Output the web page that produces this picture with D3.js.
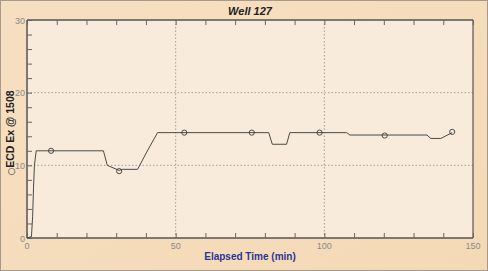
<!DOCTYPE html>
<html><head><meta charset="utf-8">
<script src="https://cdn.jsdelivr.net/npm/d3@7/dist/d3.min.js"></script>
<style>body{margin:0;background:#f5ddbd;}svg{display:block;}</style>
</head><body>
<svg id="c" width="488" height="271"></svg>
<script>
const title = "Well 127";
const xLabel = "Elapsed Time (min)";
const yLabelSymbol = "○";
const yLabel = "ECD Ex @ 1508";
const xTickLabels = [0, 50, 100, 150];
const yTickLabels = [0, 10, 20, 30];
// line data: elapsed time (min), ECD
const times = [0, 1.5, 1.9, 2.2, 2.5, 2.8, 3.1, 25.7, 27, 31, 32, 37.2, 40.1, 43.9, 81.3, 82.5, 87.3, 88.4, 107.5, 108.6, 134.5, 135.8, 139.2, 143];
const ecd =   [0, 0.2, 3, 7, 10, 11, 12, 12, 10, 9.3, 9.45, 9.45, 11.7, 14.5, 14.5, 12.9, 12.9, 14.5, 14.5, 14.17, 14.17, 13.7, 13.7, 14.5];
// markers
const markTimes = [8.1, 31, 52.9, 75.6, 98.4, 120.3, 143];
const markEcd = [12, 9.2, 14.5, 14.5, 14.5, 14.1, 14.6];

const svg = d3.select("#c");
const W = 488, H = 271;
const L = 27, R = 473, T = 20, B = 238;
const x = d3.scaleLinear().domain([0,150]).range([L,R]);
const y = d3.scaleLinear().domain([0,30]).range([B,T]);

// outer background
const defs = svg.append("defs");
const g = defs.append("linearGradient").attr("id","bg").attr("x1",0).attr("y1",0).attr("x2",1).attr("y2",1);
g.append("stop").attr("offset","0%").attr("stop-color","#f6dfc1");
g.append("stop").attr("offset","100%").attr("stop-color","#f4d9b6");
svg.append("rect").attr("x",0.5).attr("y",0.5).attr("width",W-1).attr("height",H-1)
  .attr("fill","url(#bg)").attr("stroke","#a89a8a");
// plot area
svg.append("rect").attr("x",L).attr("y",T).attr("width",R-L).attr("height",B-T)
  .attr("fill","#f8ebdb");

// grid
const gridC = "#8f8a84";
[50,100].forEach(v=>svg.append("line").attr("x1",x(v)).attr("x2",x(v)).attr("y1",T).attr("y2",B)
  .attr("stroke",gridC).attr("stroke-width",0.8).attr("stroke-dasharray","1.5,2"));
[10,20].forEach(v=>svg.append("line").attr("y1",y(v)).attr("y2",y(v)).attr("x1",L).attr("x2",R)
  .attr("stroke",gridC).attr("stroke-width",0.8).attr("stroke-dasharray","1.5,2"));

// frame
svg.append("line").attr("x1",L).attr("x2",L).attr("y1",T).attr("y2",B).attr("stroke","#555").attr("stroke-width",1.5);
svg.append("line").attr("x1",L).attr("x2",R).attr("y1",B).attr("y2",B).attr("stroke","#555").attr("stroke-width",1.5);
svg.append("line").attr("x1",L).attr("x2",R).attr("y1",T).attr("y2",T).attr("stroke","#555").attr("stroke-width",1.5);
svg.append("line").attr("x1",R).attr("x2",R).attr("y1",T).attr("y2",B).attr("stroke","#555").attr("stroke-width",1.2);

// axes with inward ticks
const tickC = "#666";
const xAxisB = d3.axisTop(x).tickValues(d3.range(0,151,10)).tickSize(5).tickFormat("");
const xb = svg.append("g").attr("transform",`translate(0,${B})`).call(xAxisB);
const xAxisT = d3.axisBottom(x).tickValues(d3.range(0,151,10)).tickSize(5).tickFormat("");
const xt = svg.append("g").attr("transform",`translate(0,${T})`).call(xAxisT);
const yAxisL = d3.axisRight(y).tickValues(d3.range(0,31,2)).tickSize(5).tickFormat("");
const yl = svg.append("g").attr("transform",`translate(${L},0)`).call(yAxisL);
[xb,xt,yl].forEach(a=>{a.select(".domain").remove();a.selectAll("line").attr("stroke",tickC);});

// tick labels
svg.selectAll(".xl").data(xTickLabels).enter().append("text")
  .attr("x",d=>x(d)).attr("y",B+11).attr("text-anchor","middle")
  .attr("font-family","Liberation Sans, Arial, sans-serif").attr("font-size",9).attr("fill","#8a8a8a").text(d=>d);
svg.selectAll(".yl").data(yTickLabels).enter().append("text")
  .attr("x",L-2).attr("y",d=>y(d)+3.5).attr("text-anchor","end")
  .attr("font-family","Liberation Sans, Arial, sans-serif").attr("font-size",9).attr("fill","#8a8a8a").text(d=>d);

// title and axis labels
svg.append("text").attr("x",(L+R)/2).attr("y",15).attr("text-anchor","middle")
  .attr("font-family","Liberation Sans, Arial, sans-serif").attr("font-size",11).attr("font-weight","bold")
  .attr("font-style","italic").attr("fill","#222").text(title);
svg.append("text").attr("x",(L+R)/2).attr("y",260).attr("text-anchor","middle")
  .attr("font-family","Liberation Sans, Arial, sans-serif").attr("font-size",10).attr("font-weight","bold")
  .attr("fill","#2b3596").text(xLabel);
const yt = svg.append("text").attr("transform",`translate(14,133) rotate(-90)`).attr("text-anchor","middle")
  .attr("font-family","Liberation Sans, Arial, sans-serif").attr("font-size",10.5).attr("font-weight","bold")
  .attr("fill","#222");
yt.append("tspan").attr("font-family","DejaVu Sans").attr("font-weight","normal").attr("font-size",9).text(yLabelSymbol);
yt.append("tspan").text(yLabel);

// line
const pts = times.map((t,i)=>[t,ecd[i]]);
svg.append("path").datum(pts).attr("fill","none").attr("stroke","#4a4a4a").attr("stroke-width",1)
  .attr("d",d3.line().x(d=>x(d[0])).y(d=>y(d[1])));
// markers
svg.selectAll(".m").data(markTimes.map((t,i)=>[t,markEcd[i]])).enter().append("circle")
  .attr("cx",d=>x(d[0])).attr("cy",d=>y(d[1])).attr("r",2.6)
  .attr("fill","none").attr("stroke","#3a3a3a").attr("stroke-width",0.9);
</script>
</body></html>
